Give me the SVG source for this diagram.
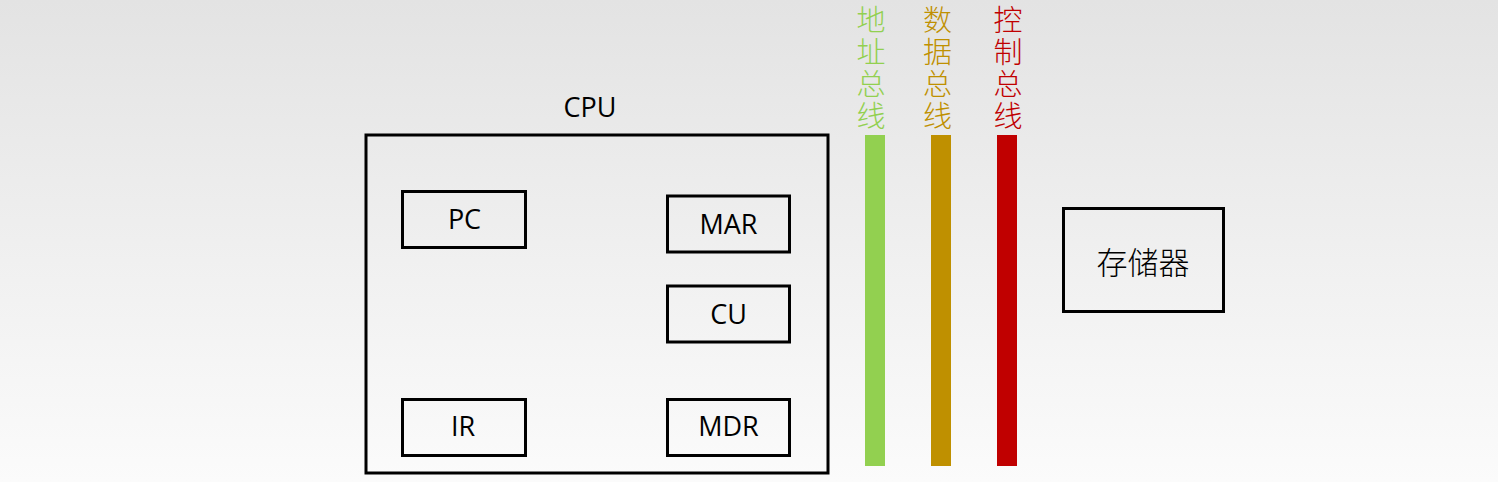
<svg xmlns="http://www.w3.org/2000/svg" width="1498" height="482" viewBox="0 0 1498 482">
<defs>
<linearGradient id="bg" x1="0" y1="0" x2="0" y2="1">
<stop offset="0" stop-color="#e3e3e3"/>
<stop offset="1" stop-color="#fbfbfb"/>
</linearGradient>
<style>
.box{fill:none;stroke:#000;stroke-width:3}
.lbl{font-family:"Open Sans","Noto Sans",sans-serif;font-size:27px;fill:#000;text-anchor:middle}
.cjk{font-family:"Noto Sans CJK SC",sans-serif;font-weight:300;text-anchor:middle}
</style>
</defs>
<rect width="1498" height="482" fill="url(#bg)"/>
<g id="cpu">
<rect class="box" x="366" y="135" width="462" height="338"/>
<text class="lbl" x="590" y="117">CPU</text>
</g>
<g id="pc"><rect class="box" x="402.5" y="191.5" width="123" height="56"/><text class="lbl" x="464.5" y="229">PC</text></g>
<g id="mar"><rect class="box" x="667.5" y="196" width="122" height="56"/><text class="lbl" x="728.5" y="234">MAR</text></g>
<g id="cu"><rect class="box" x="667.5" y="286" width="122" height="56"/><text class="lbl" x="728.5" y="324">CU</text></g>
<g id="ir"><rect class="box" x="402.5" y="399.5" width="123" height="56"/><text class="lbl" x="463" y="436">IR</text></g>
<g id="mdr"><rect class="box" x="667.5" y="399.5" width="122" height="56"/><text class="lbl" x="728.5" y="436">MDR</text></g>
<g id="memory"><rect class="box" x="1063.5" y="208.5" width="160" height="103"/><text class="cjk" x="1143" y="274" font-size="31">存储器</text></g>
<g id="connectors">
<g id="addr-bus">
<rect x="865" y="135" width="20" height="331" fill="#92d050"/>
<text class="cjk" font-size="29" fill="#92d050"><tspan x="871" y="31">地</tspan><tspan x="871" y="63">址</tspan><tspan x="871" y="95">总</tspan><tspan x="871" y="127">线</tspan></text>
</g>
<g id="data-bus">
<rect x="931" y="135" width="20" height="331" fill="#bf9000"/>
<text class="cjk" font-size="29" fill="#bf9000"><tspan x="937.5" y="31">数</tspan><tspan x="937.5" y="63">据</tspan><tspan x="937.5" y="95">总</tspan><tspan x="937.5" y="127">线</tspan></text>
</g>
<g id="ctrl-bus">
<rect x="997" y="135" width="20" height="331" fill="#c00000"/>
<text class="cjk" font-size="29" fill="#c00000"><tspan x="1008" y="31">控</tspan><tspan x="1008" y="63">制</tspan><tspan x="1008" y="95">总</tspan><tspan x="1008" y="127">线</tspan></text>
</g>
</g>
</svg>
